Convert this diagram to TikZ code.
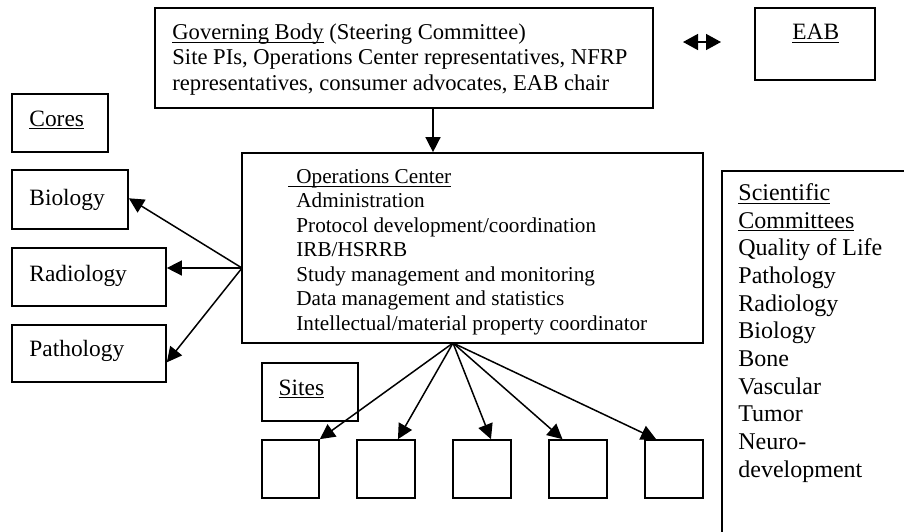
\documentclass[tikz,border=0pt]{standalone}
\usepackage{fontspec}
\setmainfont{Liberation Serif}
\usetikzlibrary{arrows.meta,fit,calc}
\newcommand\ulx[1]{\underline{\smash{#1}}}
\begin{document}
\begin{tikzpicture}[x=0.5pt,y=-0.5pt,
  box/.style={draw, line width=0.85pt, inner sep=0pt},
  txt/.style={inner sep=0pt, font=\fontsize{11.7}{12}\selectfont},
  arr/.style={line width=0.75pt, -{Triangle[length=7.5pt,width=7.5pt]}},
  dbl/.style={line width=0.75pt, {Triangle[length=7.5pt,width=8pt]}-{Triangle[length=7.5pt,width=8pt]}}]
\useasboundingbox (0,0) rectangle (904,531);
\fill[white] (0,0) rectangle (904,531);
\clip (0,0) rectangle (904,531);

% Governing body
\node[box, fit={(155,8)(653,108)}] (gov) {};
\node[txt, anchor=north west, align=left, font=\fontsize{11.3}{12.75}\selectfont] (govt) at (172,21.15)
  {\strut\ulx{Governing Body} (Steering Committee)\\
   Site PIs, Operations Center representatives, NFRP\\
   representatives, consumer advocates, EAB chair};

% EAB
\node[box, fit={(755,8)(875,80)}] (eab) {};
\node[txt, anchor=base west] (eabt) at (792,39.3) {\ulx{EAB}};
\coordinate (dl) at (683,42);
\coordinate (dr) at (721,42);
\draw[dbl] (dl) -- (dr);

% Operations center
\node[box, fit={(242,153)(703,343)}] (ops) {};
\node[txt, anchor=north west, align=left, font=\fontsize{10.6}{12.25}\selectfont] (opst) at (296,165.9)
  {\strut\hspace*{-4pt}\ulx{\hspace{4pt}Operations Center}\\
   Administration\\
   Protocol development/coordination\\
   IRB/HSRRB\\
   Study management and monitoring\\
   Data management and statistics\\
   Intellectual/material property coordinator};
\coordinate (gd) at (433,108);
\draw[arr] (gd) -- (gd |- ops.north);

% Cores
\node[box, fit={(12,94)(108,152)}] (cores) {};
\node[txt, anchor=base west] (corest) at (29,126) {\ulx{Cores}};
\node[box, fit={(12,170)(128,229)}] (bio) {};
\node[txt, anchor=base west] (biot) at (29,205) {Biology};
\node[box, fit={(12,248)(166,306)}] (rad) {};
\node[txt, anchor=base west] (radt) at (29,281.7) {Radiology};
\node[box, fit={(12,325)(166,382)}] (pat) {};
\node[txt, anchor=base west] (patt) at (29,356.7) {Pathology};
\coordinate (opsL) at (242,268);
\draw[arr] (opsL) -- ($(bio.north east)!0.48!(bio.south east)$);
\draw[arr] (opsL) -- (opsL -| rad.east);
\draw[arr] (opsL) -- ($(pat.north east)!0.65!(pat.south east)$);

% Sites
\node[box, fit={(262,363)(358,421)}] (sites) {};
\node[txt, anchor=base west] (sitest) at (278.3,395) {\ulx{Sites}};
\node[box, fit={(262,440)(319,498)}] (s1) {};
\node[box, fit={(357,440)(415,498)}] (s2) {};
\node[box, fit={(453,440)(511,498)}] (s3) {};
\node[box, fit={(549,440)(607,498)}] (s4) {};
\node[box, fit={(645,440)(703,498)}] (s5) {};
\coordinate (opsB) at (453,343);
\draw[arr] (opsB) -- (s1.north east);
\draw[arr] (opsB) -- ($(s2.north west)!0.7!(s2.north east)$);
\draw[arr] (opsB) -- ($(s3.north west)!0.65!(s3.north east)$);
\draw[arr] (opsB) -- ($(s4.north west)!0.24!(s4.north east)$);
\draw[arr] (opsB) -- ($(s5.north west)!0.2!(s5.north east)$);

% Scientific committees
\node[box, fit={(722,171)(916,545)}] (sci) {};
\node[txt, anchor=north west, align=left, font=\fontsize{12}{13.85}\selectfont] (scit) at (738,180.6)
  {\strut\ulx{Scientific}\\
   \ulx{Committees}\\
   Quality of Life\\
   Pathology\\
   Radiology\\
   Biology\\
   Bone\\
   Vascular\\
   Tumor\\
   Neuro-\\
   development};
\end{tikzpicture}
\end{document}
